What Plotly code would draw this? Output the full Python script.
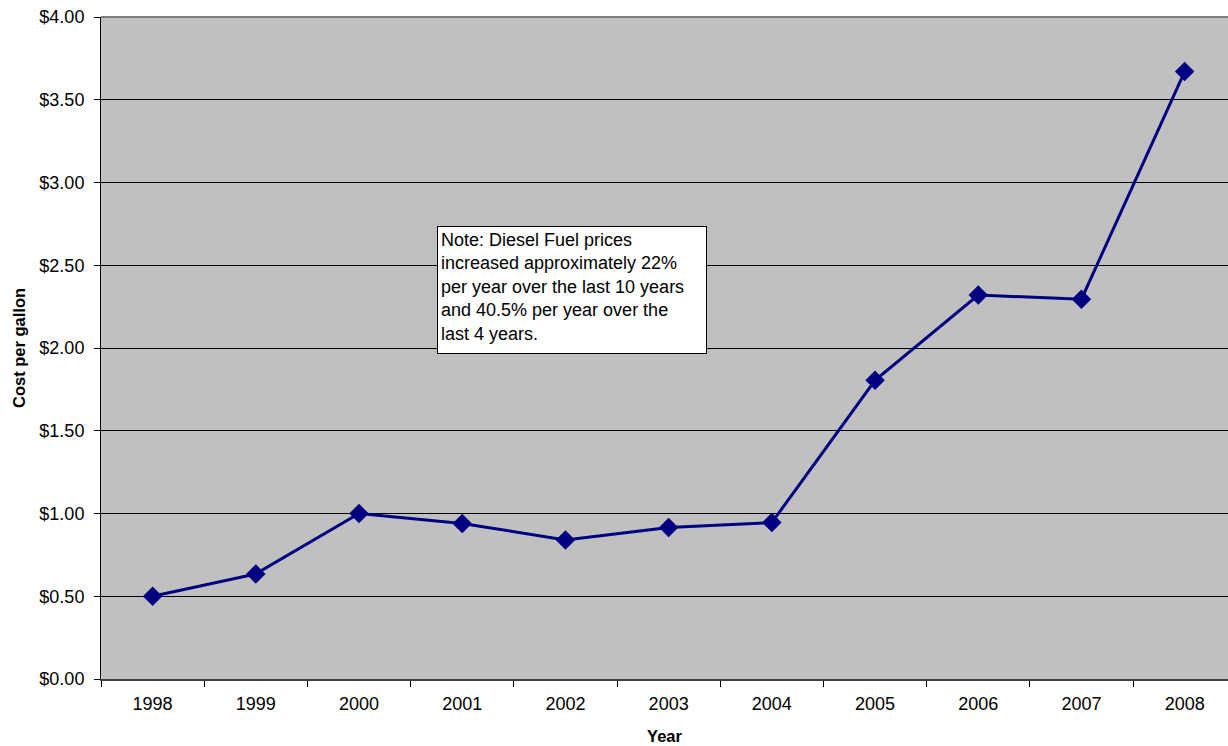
import plotly.graph_objects as go

# Average diesel fuel cost per gallon by year
years = ["1998", "1999", "2000", "2001", "2002", "2003", "2004", "2005", "2006", "2007", "2008"]
cost_per_gallon = [0.50, 0.635, 1.00, 0.94, 0.84, 0.915, 0.945, 1.805, 2.32, 2.295, 3.67]
y_ticks = [0, 0.5, 1.0, 1.5, 2.0, 2.5, 3.0, 3.5, 4.0]
y_tick_labels = [f"${v:.2f}" for v in y_ticks]

note_text = ("Note: Diesel Fuel prices<br>increased approximately 22%<br>"
             "per year over the last 10 years<br>and 40.5% per year over the<br>last 4 years.")

FONT = "Liberation Sans, Arial, sans-serif"
NAVY = "#000080"

fig = go.Figure()
fig.add_trace(go.Scatter(
    x=years,
    y=cost_per_gallon,
    mode="lines+markers",
    line=dict(color=NAVY, width=3),
    marker=dict(symbol="diamond", size=15, color=NAVY),
    showlegend=False,
))

fig.update_layout(
    width=1228,
    height=746,
    margin=dict(l=101, r=0, t=17, b=67),
    paper_bgcolor="white",
    plot_bgcolor="#c0c0c0",
    font=dict(family=FONT, size=18, color="black"),
    xaxis=dict(
        type="category",
        range=[-0.5, 10.42],
        showgrid=False,
        showline=True,
        linecolor="#404040",
        linewidth=2,
        ticks="outside",
        tickson="boundaries",
        ticklen=6,
        tickcolor="black",
        ticklabelstandoff=7,
        title=dict(text="<b>Year</b>", font=dict(size=16.5), standoff=18),
        zeroline=False,
    ),
    yaxis=dict(
        range=[0, 4],
        tickvals=y_ticks,
        ticktext=y_tick_labels,
        showgrid=True,
        gridcolor="black",
        gridwidth=1,
        showline=True,
        linecolor="black",
        linewidth=1,
        ticks="outside",
        ticklen=6,
        tickcolor="black",
        ticklabelstandoff=6,
        zeroline=False,
        title=dict(text="<b>Cost per gallon</b>", font=dict(size=16.5), standoff=9),
    ),
    shapes=[
        dict(type="line", xref="paper", yref="paper", x0=0, x1=1, y0=1, y1=1,
             line=dict(color="#808080", width=2)),
    ],
    annotations=[
        dict(
            text=note_text,
            xref="paper", yref="paper",
            x=0.2981, y=0.6843,
            xanchor="left", yanchor="top",
            align="left", valign="top",
            showarrow=False,
            font=dict(size=18, color="black"),
            bgcolor="white",
            bordercolor="black",
            borderwidth=1,
            borderpad=3,
            width=262,
            height=120,
        )
    ],
)

fig.write_html("out.html")
